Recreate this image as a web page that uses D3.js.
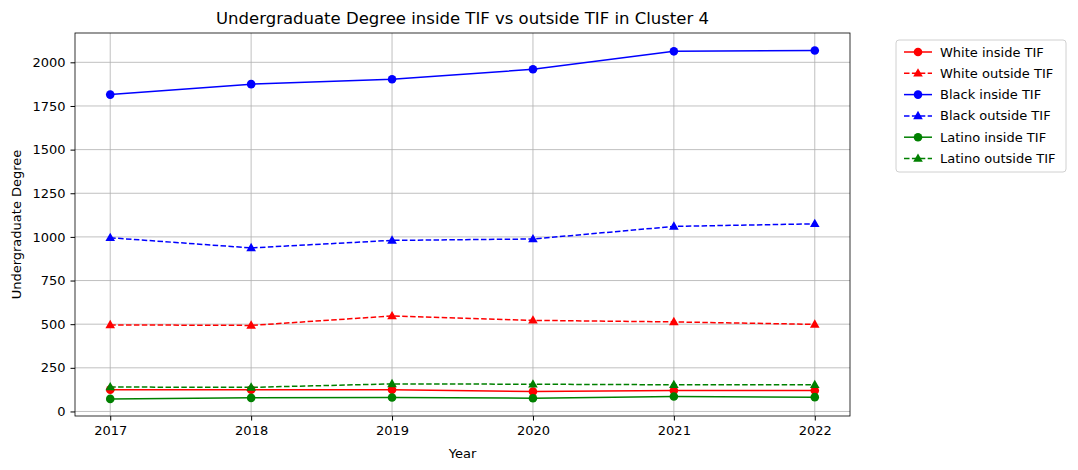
<!DOCTYPE html><html><head><meta charset="utf-8"><script src="https://cdn.jsdelivr.net/npm/d3@7"></script>
<style>body{margin:0;background:#fff;font-family:"DejaVu Sans",sans-serif}</style></head><body><svg id="c" width="1078" height="470"></svg>
<script>
const years=[2017,2018,2019,2020,2021,2022];
const whiteIn=[125,125,125,114,120,120];
const whiteOut=[496,493,547,522,513,499];
const blackIn=[1815,1875,1903,1960,2063,2068];
const blackOut=[995,937,980,988,1060,1075];
const latinoIn=[72,78,80,76,86,82];
const latinoOut=[140,138,158,156,153,153];
const yTicks=[0,250,500,750,1000,1250,1500,1750,2000];
const series=[
 {name:"White inside TIF",v:whiteIn,c:"red",dash:false},
 {name:"White outside TIF",v:whiteOut,c:"red",dash:true},
 {name:"Black inside TIF",v:blackIn,c:"blue",dash:false},
 {name:"Black outside TIF",v:blackOut,c:"blue",dash:true},
 {name:"Latino inside TIF",v:latinoIn,c:"green",dash:false},
 {name:"Latino outside TIF",v:latinoOut,c:"green",dash:true}];
const svg=d3.select("#c");
const L=75,R=850,T=33,B=416;
const x=d3.scaleLinear().domain([2016.75,2022.25]).range([L,R]);
const y=d3.scaleLinear().domain([-26,2168]).range([B,T]);
const g=svg.append("g");
years.forEach(t=>g.append("line").attr("x1",x(t)).attr("x2",x(t)).attr("y1",T).attr("y2",B).attr("stroke","#b0b0b0").attr("stroke-width",0.8));
yTicks.forEach(t=>g.append("line").attr("x1",L).attr("x2",R).attr("y1",y(t)).attr("y2",y(t)).attr("stroke","#b0b0b0").attr("stroke-width",0.8));
svg.append("g").attr("transform",`translate(0,${B})`).call(d3.axisBottom(x).tickValues(years).tickFormat(d3.format("d")).tickSize(4.5).tickPadding(5)).call(a=>{a.select(".domain").remove();a.selectAll("text").attr("font-size",13).attr("fill","#000").attr("font-family","DejaVu Sans")});
svg.append("g").attr("transform",`translate(${L},0)`).call(d3.axisLeft(y).tickValues(yTicks).tickFormat(d3.format("d")).tickSize(4.5).tickPadding(5)).call(a=>{a.select(".domain").remove();a.selectAll("text").attr("font-size",13).attr("fill","#000").attr("font-family","DejaVu Sans")});
svg.append("rect").attr("x",L).attr("y",T).attr("width",R-L).attr("height",B-T).attr("fill","none").attr("stroke","#000").attr("stroke-width",0.8);
const line=d3.line().x((d,i)=>x(years[i])).y(d=>y(d));
function marker(sel,s,cx,cy){
 if(s.dash) sel.append("path").attr("d",d3.symbol(d3.symbolTriangle,40)()).attr("transform",`translate(${cx},${cy+0.5})`).attr("fill",s.c);
 else sel.append("circle").attr("cx",cx).attr("cy",cy).attr("r",4.3).attr("fill",s.c);
}
series.forEach(s=>{
 svg.append("path").datum(s.v).attr("d",line).attr("fill","none").attr("stroke",s.c).attr("stroke-width",1.5).attr("stroke-dasharray",s.dash?"5.5,2.4":null);
 s.v.forEach((d,i)=>marker(svg,s,x(years[i]),y(d)));
});
svg.append("text").attr("x",(L+R)/2).attr("y",24).attr("text-anchor","middle").attr("font-size",16.5).text("Undergraduate Degree inside TIF vs outside TIF in Cluster 4");
svg.append("text").attr("x",(L+R)/2).attr("y",458).attr("text-anchor","middle").attr("font-size",13).text("Year");
svg.append("text").attr("transform",`translate(21,${(T+B)/2}) rotate(-90)`).attr("text-anchor","middle").attr("font-size",13).text("Undergraduate Degree");
const lg=svg.append("g").attr("transform","translate(896,40)");
lg.append("rect").attr("width",170).attr("height",132).attr("rx",3).attr("fill","#fff").attr("stroke","#d0d0d0");
series.forEach((s,i)=>{
 const yy=12+i*21.3;
 lg.append("line").attr("x1",8).attr("x2",36).attr("y1",yy).attr("y2",yy).attr("stroke",s.c).attr("stroke-width",1.5).attr("stroke-dasharray",s.dash?"5.5,2.4":null);
 marker(lg,s,22,yy);
 lg.append("text").attr("x",44).attr("y",yy+4.5).attr("font-size",13).text(s.name);
});
</script></body></html>
